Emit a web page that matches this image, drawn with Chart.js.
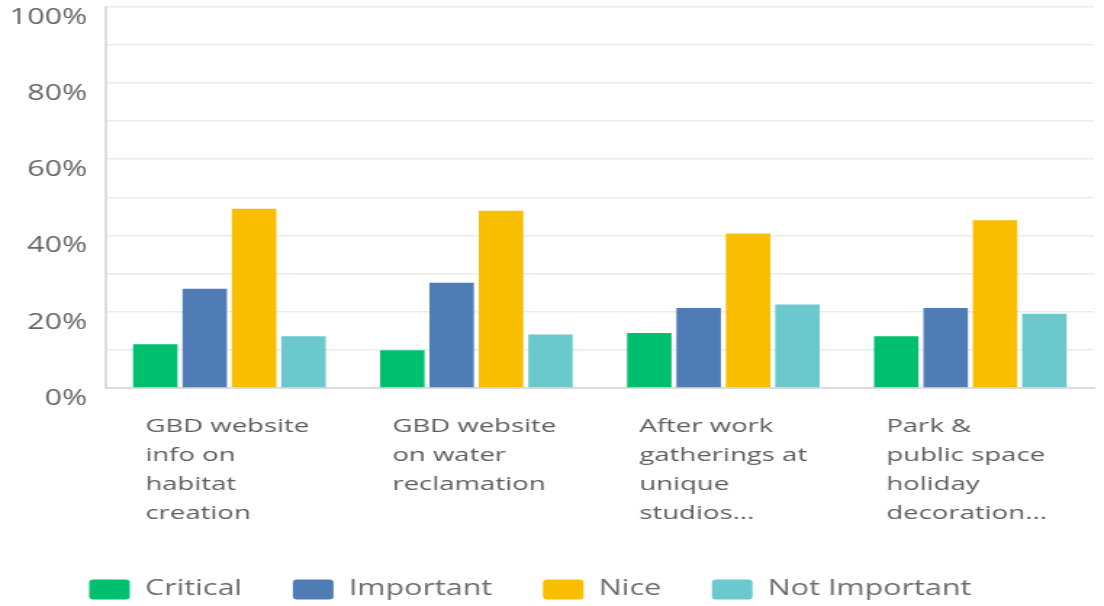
<!DOCTYPE html>
<html>
<head>
<meta charset="utf-8">
<script src="https://cdn.jsdelivr.net/npm/chart.js@4/dist/chart.umd.min.js"></script>
<style>
  html, body { margin: 0; padding: 0; background: #ffffff; overflow: hidden; width: 1104px; height: 606px; }
  #wrap { position: absolute; left: 0; top: -19px; width: 761px; height: 629px; transform: scaleX(1.4507); transform-origin: 0 0; }
</style>
</head>
<body>
<div id="wrap"><canvas id="c"></canvas></div>
<script>
const categories = [
  ['GBD website', 'info on', 'habitat', 'creation'],
  ['GBD website', 'on water', 'reclamation'],
  ['After work', 'gatherings at', 'unique', 'studios...'],
  ['Park &', 'public space', 'holiday', 'decoration...']
];
const seriesNames = ['Critical', 'Important', 'Nice', 'Not Important'];
const critical = [11.5, 9.9, 14.4, 13.6];
const important = [26.0, 27.6, 21.0, 21.0];
const nice = [47.0, 46.5, 40.5, 44.0];
const notImportant = [13.6, 14.0, 21.9, 19.5];
const yTickValues = [0, 20, 40, 60, 80, 100];
const yTickLabels = ['0%', '20%', '40%', '60%', '80%', '100%'];

const colors = ['#00bf6f', '#507cb6', '#f9be00', '#6bc8cd'];
const seriesValues = [critical, important, nice, notImportant];

new Chart(document.getElementById('c'), {
  type: 'bar',
  data: {
    labels: categories,
    datasets: seriesNames.map((name, i) => ({
      label: name,
      data: seriesValues[i],
      backgroundColor: colors[i],
      borderWidth: 0,
      categoryPercentage: 0.8,
      barPercentage: 0.9
    }))
  },
  options: {
    responsive: true,
    maintainAspectRatio: false,
    animation: false,
    layout: { padding: { left: -23, right: 7, top: 0, bottom: 0 } },
    plugins: {
      tooltip: { enabled: false },
      legend: {
        position: 'bottom',
        align: 'center',
        labels: {
          boxWidth: 28,
          boxHeight: 20,
          padding: 35,
          useBorderRadius: true,
          borderRadius: 3,
          color: '#6b6b6b',
          font: { family: 'Open Sans', size: 21 }
        }
      }
    },
    scales: {
      x: {
        grid: { display: false, drawTicks: false },
        border: { display: true, color: '#dcdcdc', width: 2 },
        ticks: {
          autoSkip: false,
          maxRotation: 0,
          minRotation: 0,
          align: 'start',
          labelOffset: -58,
          padding: 24,
          color: '#5e5e5e',
          font: { family: 'Open Sans', size: 19, lineHeight: 1.53 }
        },
        afterFit: (s) => { s.height = 156; s.paddingLeft = 0; s.paddingRight = 0; }
      },
      y: {
        min: 0,
        max: 100,
        grid: { color: '#ebebeb', lineWidth: 1.5, drawTicks: false },
        border: { display: true, color: '#dcdcdc', width: 2 },
        ticks: {
          stepSize: 10,
          padding: 13,
          labelOffset: 11,
          color: '#666666',
          font: { family: 'Open Sans', size: 21 },
          callback: (v) => {
            const k = yTickValues.indexOf(v);
            return k >= 0 ? yTickLabels[k] : '';
          }
        },
        afterFit: (s) => { s.width = 96; }
      }
    }
  }
});
</script>
</body>
</html>
